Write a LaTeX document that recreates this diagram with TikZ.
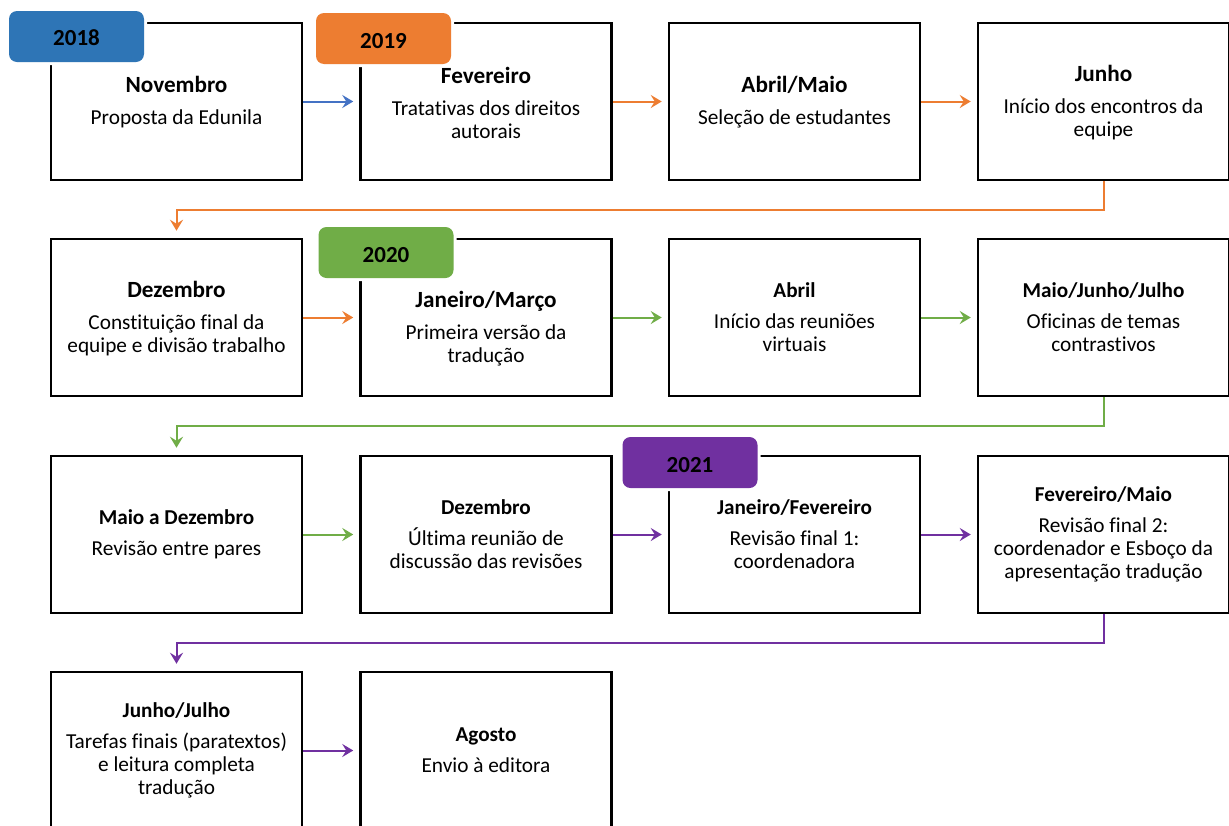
\documentclass[tikz,border=0pt]{standalone}
\usepackage{fontspec}
\setmainfont{Carlito}[Ligatures={NoCommon}]
\usetikzlibrary{arrows.meta,calc}

\definecolor{tagblue}{HTML}{2E75B6}
\definecolor{arrblue}{HTML}{4472C4}
\definecolor{corange}{HTML}{ED7D31}
\definecolor{cgreen}{HTML}{70AD47}
\definecolor{cpurple}{HTML}{7030A0}

% bold heading lines of a stage (large and small variants)
\newcommand{\bigttl}[1]{{\bfseries\fontsize{23.2}{23}\selectfont #1}\\[9pt]}
\newcommand{\smallttl}[1]{{\bfseries\fontsize{21.2}{23}\selectfont #1}\\[8pt]}
% year label set on a lowered, zero-size box
\newcommand{\yearlbl}[2]{\raisebox{#1}[0pt][0pt]{#2}}

\tikzset{
  stagebox/.style={draw=black, line width=2.5pt, minimum width=251pt,
    minimum height=157pt, inner sep=0pt},
  stagetext/.style={align=center, inner sep=0pt, text=black,
    font=\fontsize{21.3}{23}\selectfont},
  yeartag/.style={rounded corners=8pt, minimum width=135pt, minimum height=51pt,
    inner sep=0pt, text=black, font=\bfseries\fontsize{23}{24}\selectfont,
    preaction={draw=white, line width=6pt}},
  flow/.style={line width=2pt, -{Stealth[length=11pt,width=13pt,inset=4pt]},
    shorten >=6pt},
}

\begin{document}
\begin{tikzpicture}[x=1pt,y=-1pt]
\useasboundingbox (0,0) rectangle (1229,825);
\clip (0,0) rectangle (1229,825);
\fill[white] (0,0) rectangle (1229,825);

% ---- stage boxes ----
\node[stagebox] (a1) at (176.5,101.5) {};
\node[stagebox] (a2) at (486,101.5) {};
\node[stagebox] (a3) at (794.5,101.5) {};
\node[stagebox] (a4) at (1103.5,101.5) {};
\node[stagebox] (b1) at (176.5,317.5) {};
\node[stagebox] (b2) at (486,317.5) {};
\node[stagebox] (b3) at (794.5,317.5) {};
\node[stagebox] (b4) at (1103.5,317.5) {};
\node[stagebox] (c1) at (176.5,534.5) {};
\node[stagebox] (c2) at (486,534.5) {};
\node[stagebox] (c3) at (794.5,534.5) {};
\node[stagebox] (c4) at (1103.5,534.5) {};
\node[stagebox] (d1) at (176.5,750.5) {};
\node[stagebox] (d2) at (486,750.5) {};

% ---- stage texts ----
\node[stagetext] (ta1) at ($(a1)+(0,1)$) {\bigttl{Novembro}Proposta da Edunila};
\node[stagetext] (ta2) at ($(a2)+(0,1)$) {\bigttl{Fevereiro}Tratativas dos direitos\\autorais};
\node[stagetext] (ta3) at ($(a3)+(0,1)$) {\bigttl{Abril/Maio}Seleção de estudantes};
\node[stagetext] (ta4) at ($(a4)+(0,1)$) {\bigttl{Junho}Início dos encontros da\\equipe};
\node[stagetext] (tb1) at ($(b1)+(0,1)$) {\bigttl{Dezembro}Constituição final da\\equipe e divisão trabalho};
\node[stagetext] (tb2) at ($(b2)+(0,11)$) {\bigttl{Janeiro/Março}Primeira versão da\\tradução};
\node[stagetext] (tb3) at (b3) {\smallttl{Abril}Início das reuniões\\virtuais};
\node[stagetext] (tb4) at (b4) {\smallttl{Maio/Junho/Julho}Oficinas de temas\\contrastivos};
\node[stagetext] (tc1) at (c1) {\smallttl{Maio a Dezembro}Revisão entre pares};
\node[stagetext] (tc2) at (c2) {\smallttl{Dezembro}Última reunião de\\discussão das revisões};
\node[stagetext] (tc3) at (c3) {\smallttl{Janeiro/Fevereiro}Revisão final 1:\\coordenadora};
\node[stagetext] (tc4) at (c4) {\smallttl{Fevereiro/Maio}Revisão final 2:\\coordenador e Esboço da\\apresentação tradução};
\node[stagetext] (td1) at (d1) {\smallttl{Junho/Julho}Tarefas finais (paratextos)\\e leitura completa\\tradução};
\node[stagetext] (td2) at (d2) {\smallttl{Agosto}Envio à editora};

% ---- connectors within rows ----
\draw[flow, arrblue] (a1.east) -- (a2.west);
\draw[flow, corange] (a2.east) -- (a3.west);
\draw[flow, corange] (a3.east) -- (a4.west);
\draw[flow, corange] (b1.east) -- (b2.west);
\draw[flow, cgreen] (b2.east) -- (b3.west);
\draw[flow, cgreen] (b3.east) -- (b4.west);
\draw[flow, cgreen] (c1.east) -- (c2.west);
\draw[flow, cpurple] (c2.east) -- (c3.west);
\draw[flow, cpurple] (c3.east) -- (c4.west);
\draw[flow, cpurple] (d1.east) -- (d2.west);

% ---- connectors wrapping to the next row ----
\coordinate (w1) at ($(a4.south)!.5!(b1.north)$);
\coordinate (w2) at ($(b4.south)!.5!(c1.north)$);
\coordinate (w3) at ($(c4.south)!.5!(d1.north)$);
\draw[flow, corange, shorten >=7pt] (a4.south) -- (a4.south |- w1) -| (b1.north);
\draw[flow, cgreen, shorten >=7pt] (b4.south) -- (b4.south |- w2) -| (c1.north);
\draw[flow, cpurple, shorten >=7pt] (c4.south) -- (c4.south |- w3) -| (d1.north);

% ---- year tags ----
\node[yeartag, fill=tagblue] (y18) at (76.5,36.5) {\yearlbl{-9.3pt}{2018}};
\node[yeartag, fill=corange] (y19) at (383.5,38.5) {\yearlbl{-10.3pt}{2019}};
\node[yeartag, fill=cgreen] (y20) at (386,252.5) {\yearlbl{-9.8pt}{2020}};
\node[yeartag, fill=cpurple] (y21) at (690,462.5) {\yearlbl{-10.3pt}{2021}};
\end{tikzpicture}
\end{document}
